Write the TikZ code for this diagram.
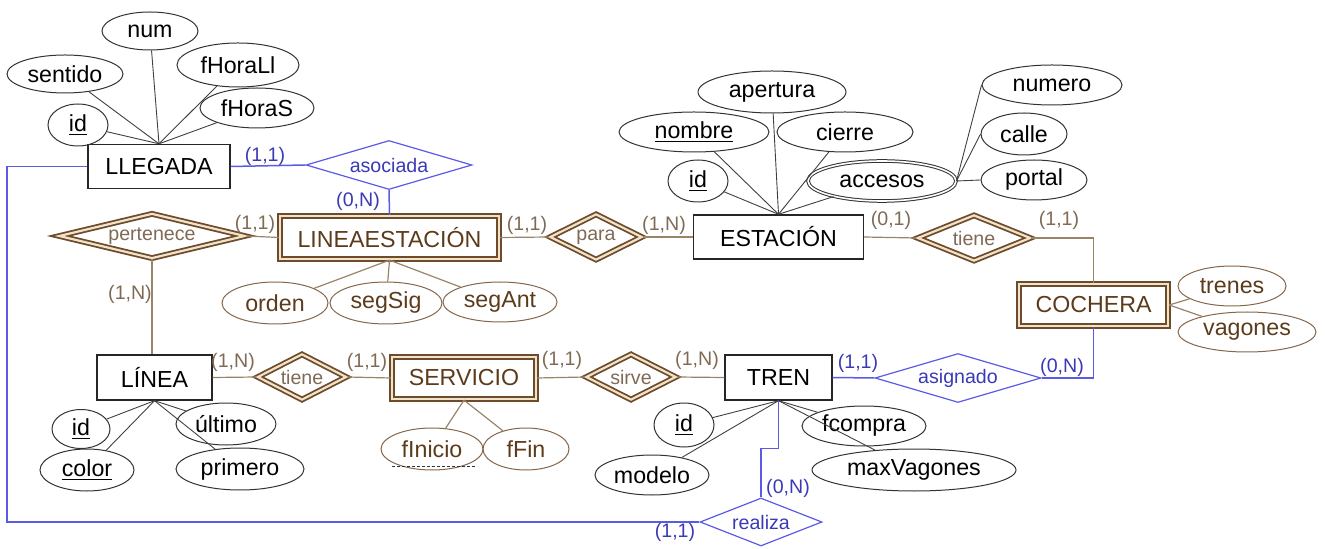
\documentclass[tikz,border=0pt]{standalone}
\usepackage{fontspec}
\setmainfont{Liberation Sans}
\usetikzlibrary{shapes.geometric,calc}
\definecolor{erbrown}{HTML}{6E4B2A}
\definecolor{ercream}{HTML}{F0E3CA}
\definecolor{erline}{HTML}{9A8468}
\definecolor{erdark}{HTML}{5C3B1B}
\definecolor{erlabel}{HTML}{7F6A55}
\definecolor{erblue}{HTML}{5A5AE6}
\definecolor{erbluetext}{HTML}{3A3AB5}
% relationship text is boxed to zero width so the diamond keeps its set size
\newcommand{\rtext}[1]{\makebox[0pt]{#1}}

\begin{document}
\begin{tikzpicture}[
  x=0.5pt, y=-0.5pt,
  font=\fontsize{11.6}{13}\selectfont,
  entity/.style={draw=black!85, line width=0.7pt, fill=white, inner sep=0pt,
                 minimum height=22pt},
  weak/.style={draw=erbrown, line width=1.15pt, double=ercream, double distance=1pt,
               text=erdark, inner sep=0pt, minimum height=21pt},
  rel/.style={diamond, aspect=1, inner sep=0pt, font=\fontsize{9.8}{11}\selectfont},
  weakrel/.style={rel, draw=erbrown, line width=0.9pt, double=ercream,
                  double distance=1.1pt, text=erlabel, minimum height=23pt},
  bluerel/.style={rel, draw=erblue, line width=0.6pt, text=erbluetext,
                  minimum height=24.5pt},
  attr/.style={ellipse, draw=black!80, line width=0.5pt, inner sep=0pt,
               minimum height=20.5pt},
  wattr/.style={attr, draw=erbrown!85, text=erdark},
  link/.style={draw=black!75, line width=0.45pt},
  wlink/.style={draw=erline, line width=0.6pt},
  blink/.style={draw=erblue, line width=0.75pt},
  card/.style={font=\fontsize{9.8}{11}\selectfont, text=erlabel, inner sep=0pt},
  bcard/.style={card, text=erbluetext}
]
\useasboundingbox (0,0) rectangle (1325,549);

% entities
\node[entity, minimum width=71pt] (llegada) at (159,166.5) {LLEGADA};
\node[entity, minimum width=85pt] (estacion) at (778.5,237) {ESTACIÓN};
\node[entity, minimum width=57.5pt, minimum height=22.5pt] (linea) at (154.5,377.5) {LÍNEA};
\node[entity, minimum width=53.5pt, minimum height=22.5pt] (tren) at (778.5,377.5) {TREN};
\node[weak, minimum width=109.5pt, minimum height=21.5pt] (lineaest) at (389.5,237.5) {LINEAESTACIÓN};
\node[weak, minimum width=72pt] (servicio) at (464,378) {SERVICIO};
\node[weak, minimum width=74.5pt] (cochera) at (1093.5,305) {COCHERA};

% relationships
\node[bluerel, minimum width=83pt] (asociada) at (389,165) {\rtext{asociada}};
\node[weakrel, minimum width=93pt, minimum height=22.5pt] (pertenece) at (152,236) {\rtext{pertenece}};
\node[weakrel, minimum width=46pt] (para) at (596,237) {\rtext{para}};
\node[weakrel, minimum width=56.5pt] (tienecoch) at (974,238) {\rtext{tiene}};
\node[weakrel, minimum width=44.5pt] (tieneserv) at (302,377) {\rtext{tiene}};
\node[weakrel, minimum width=45pt] (sirve) at (631,377) {\rtext{sirve}};
\node[bluerel, minimum width=83pt] (asignado) at (958,378) {\rtext{asignado}};
\node[bluerel, minimum width=61pt, minimum height=24pt] (realiza) at (761,522) {\rtext{realiza}};

% attributes of LLEGADA
\node[attr, minimum width=30pt, minimum height=21pt] (llid) at (78,125) {\underline{id}};
\node[attr, minimum width=58pt, minimum height=19pt] (llsentido) at (65,74) {sentido};
\node[attr, minimum width=48pt, minimum height=19pt] (llnum) at (150,31) {num};
\node[attr, minimum width=61pt, minimum height=22pt] (llhorall) at (238,65) {fHoraLl};
\node[attr, minimum width=57pt, minimum height=20pt] (llhoras) at (257,108) {fHoraS};

% attributes of ESTACIÓN
\node[attr, minimum width=74pt, minimum height=21pt] (esapert) at (772,92) {apertura};
\node[attr, minimum width=75pt, minimum height=20pt] (esnombre) at (694,132) {\underline{nombre}};
\node[attr, minimum width=68pt, minimum height=20pt] (escierre) at (845,132) {cierre};
\node[attr, minimum width=30pt, minimum height=21pt] (esid) at (698,181) {\underline{id}};
\node[attr, double, double distance=0.8pt, minimum width=74pt, minimum height=20pt] (esacc) at (882,181) {accesos};
\node[attr, minimum width=70pt, minimum height=20pt] (acnumero) at (1052,85) {numero};
\node[attr, minimum width=43pt, minimum height=21pt] (accalle) at (1024,134) {calle};
\node[attr, minimum width=53pt, minimum height=20pt] (acportal) at (1034,180) {portal};

% attributes of LINEAESTACIÓN
\node[wattr, minimum width=53pt, minimum height=21pt] (leorden) at (275,303) {orden};
\node[wattr, minimum width=56pt, minimum height=21pt] (lesegsig) at (386,303) {segSig};
\node[wattr, minimum width=57pt, minimum height=20pt] (lesegant) at (500,302) {segAnt};

% attributes of LÍNEA
\node[attr, minimum width=29pt, minimum height=19.5pt] (liid) at (81,429) {\underline{id}};
\node[attr, minimum width=47pt, minimum height=21pt] (licolor) at (87,470) {\underline{color}};
\node[attr, minimum width=50pt, minimum height=21pt] (liultimo) at (226,424) {último};
\node[attr, minimum width=64pt, minimum height=21pt] (liprimero) at (240,469) {primero};

% attributes of SERVICIO
\node[wattr, minimum width=51pt, minimum height=21pt] (seinicio) at (432,449) {fInicio};
\node[wattr, minimum width=43pt, minimum height=21pt] (sefin) at (526,449) {fFin};

% attributes of TREN
\node[attr, minimum width=30pt, minimum height=22pt] (trid) at (684,425) {\underline{id}};
\node[attr, minimum width=57pt, minimum height=20pt] (trmodelo) at (652,475) {modelo};
\node[attr, minimum width=62pt, minimum height=20pt] (trcompra) at (864,426) {fcompra};
\node[attr, minimum width=102pt, minimum height=21pt] (trmaxvag) at (914,470) {maxVagones};

% attributes of COCHERA
\node[wattr, minimum width=54pt, minimum height=20pt] (cotrenes) at (1232,286) {trenes};
\node[wattr, minimum width=69pt, minimum height=20pt] (covagones) at (1247,332) {vagones};

% attribute links
\draw[link] (llegada.north) -- (llid);
\draw[link] (llegada.north) -- (llsentido);
\draw[link] (llegada.north) -- (llnum);
\draw[link] (llegada.north) -- (llhorall);
\draw[link] (llegada.north) -- (llhoras);
\draw[link] (estacion.north) -- (esid);
\draw[link] (estacion.north) -- (esnombre);
\draw[link] (estacion.north) -- (esapert);
\draw[link] (estacion.north) -- (escierre);
\draw[link] (estacion.north) -- (esacc);
\draw[link] (esacc.east) -- (acnumero.west);
\draw[link] (esacc.east) -- (accalle.west);
\draw[link] (esacc.east) -- (acportal.west);
\draw[wlink] (lineaest.south) -- (leorden);
\draw[wlink] (lineaest.south) -- (lesegsig);
\draw[wlink] (lineaest.south) -- (lesegant);
\draw[link] (linea.south) -- (liid);
\draw[link] (linea.south) -- (licolor);
\draw[link] (linea.south) -- (liultimo);
\draw[link] (linea.south) -- (liprimero);
\draw[wlink] (servicio.south) -- (seinicio);
\draw[wlink] (servicio.south) -- (sefin);
\draw[link] (tren.south) -- (trid);
\draw[link] (tren.south) -- (trmodelo);
\draw[link] (tren.south) -- (trcompra);
\draw[link] (tren.south) -- (trmaxvag);
\draw[wlink] (cochera.east) -- (cotrenes);
\draw[wlink] (cochera.east) -- (covagones);
% partial key of SERVICIO
\draw[black!80, line width=0.4pt, dash pattern=on 1.5pt off 1pt]
  ($(seinicio)+(-40,17)$) -- ($(seinicio)+(45,17)$);

% relationship links
\coordinate (leftbend) at (7,522);
\draw[blink] (llegada.east) -- (asociada.west);
\draw[blink] (asociada.south) -- (lineaest.north);
\draw[blink] (llegada.west) -| (leftbend) -- (realiza.west);
\draw[blink] (tren.south) -- ++(0,48) -| (realiza.north);
\draw[blink] (tren.east) -- (asignado.west);
\draw[blink] (asignado.east) -| (cochera.south);
\draw[wlink] (pertenece.east) -- (lineaest.west);
\draw[wlink] (pertenece.south) -- (pertenece.south |- linea.north);
\draw[wlink] (lineaest.east) -- (para.west);
\draw[wlink] (para.east) -- (estacion.west);
\draw[wlink] (estacion.east) -- (tienecoch.west);
\draw[wlink] (tienecoch.east) -| (cochera.north);
\draw[wlink] (linea.east) -- (tieneserv.west);
\draw[wlink] (tieneserv.east) -- (servicio.west);
\draw[wlink] (servicio.east) -- (sirve.west);
\draw[wlink] (sirve.east) -- (tren.west);

% cardinalities
\node[bcard] (cllasoc) at (265,156) {(1,1)};
\node[bcard] (casole) at (358,201) {(0,N)};
\node[card] (cperle) at (255,224) {(1,1)};
\node[card] (cperli) at (130,294) {(1,N)};
\node[card] (clepara) at (527,225) {(1,1)};
\node[card] (cparaes) at (664,225) {(1,N)};
\node[card] (cestie) at (891,220) {(0,1)};
\node[card] (ctieco) at (1059,220) {(1,1)};
\node[card] (clitie) at (233,362) {(1,N)};
\node[card] (ctiese) at (367,362) {(1,1)};
\node[card] (csesir) at (562,360) {(1,1)};
\node[card] (csirtr) at (697,360) {(1,N)};
\node[bcard] (ctrasig) at (858,363) {(1,1)};
\node[bcard] (casigco) at (1062,367) {(0,N)};
\node[bcard] (ctrrea) at (788,488) {(0,N)};
\node[bcard] (cllrea) at (675,532) {(1,1)};
\end{tikzpicture}
\end{document}
